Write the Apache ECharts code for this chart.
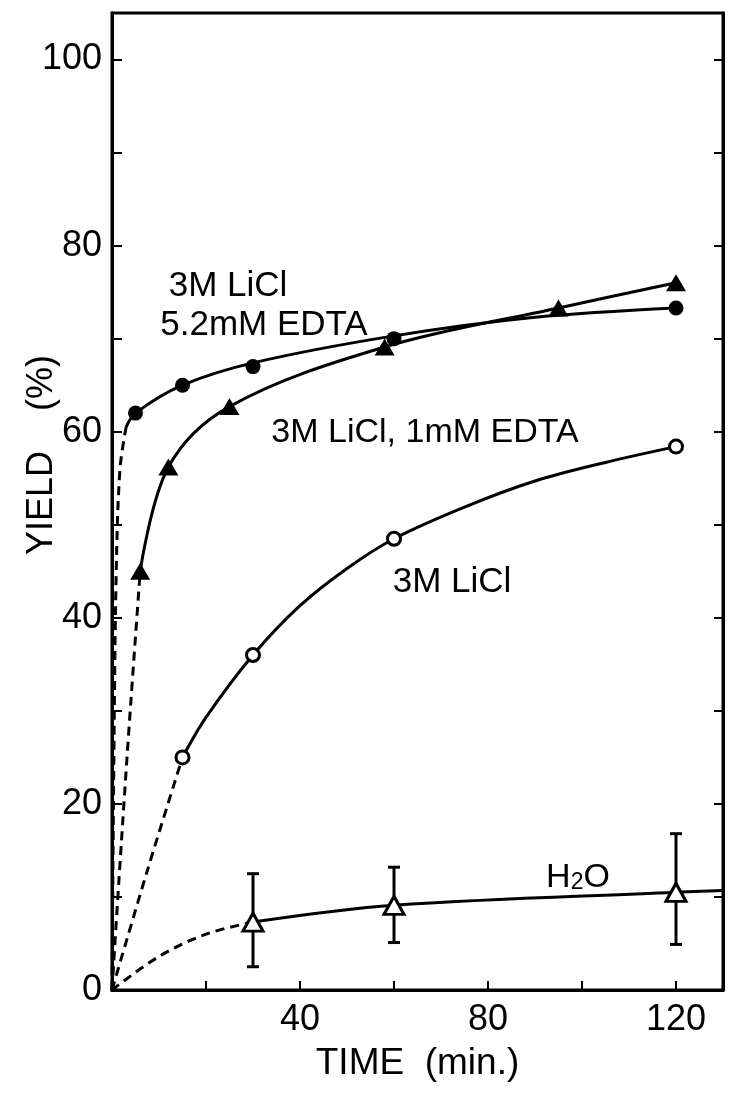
<!DOCTYPE html>
<html>
<head>
<meta charset="utf-8">
<script src="https://cdn.jsdelivr.net/npm/echarts@6/dist/echarts.min.js"></script>
<style>
  html, body { margin: 0; padding: 0; background: #fff; }
  #chart { width: 733px; height: 1102px; }
</style>
</head>
<body>
<div id="chart"></div>
<script>
// measured points (time in min, yield in %)
var timeEdta52 = [5, 15, 30, 60, 120];
var yieldEdta52 = [62, 65, 67, 70, 73.3];
var timeEdta1 = [6, 12, 25, 58, 95, 120];
var yieldEdta1 = [45, 56.2, 62.7, 69.1, 73.3, 76];
var timeLiCl = [15, 30, 60, 120];
var yieldLiCl = [25, 36, 48.5, 58.4];
var timeH2O = [30, 60, 120];
var yieldH2O = [7.3, 9.1, 10.5];
var lowH2O = [2.5, 5.1, 4.9];
var highH2O = [12.5, 13.2, 16.8];

// hand drawn fitting curves (solid) and extrapolations to origin (dashed)
var fitEdta52 = [[3, 60.5], [5, 62], [15, 65], [30, 67.4], [60, 70.3], [90, 72.3], [120, 73.3]];
var dashEdta52 = [[0, 0], [0.4, 25], [0.9, 45], [1.7, 56], [3, 60.5]];
var fitEdta1 = [[6, 45], [12, 56.2], [25, 62.7], [58, 69.1], [95, 73.3], [120, 76]];
var dashEdta1 = [[0, 0], [1.5, 12], [3.6, 28], [6, 45]];
var fitLiCl = [[15, 25], [20, 29.3], [30, 36], [40, 41.3], [50, 45.3], [60, 48.5], [75, 51.9], [90, 54.7], [105, 56.7], [120, 58.4]];
var dashLiCl = [[0, 0], [7.5, 12.8], [15, 25]];
var fitH2O = [[30, 7.3], [60, 9.1], [120, 10.5], [130, 10.7]];
var dashH2O = [[0, 0], [10, 3.6], [20, 6], [30, 7.3]];

var xLabels = [40, 80, 120];
var yLabels = [0, 20, 40, 60, 80, 100];

function zip(xs, ys) {
  return xs.map(function (x, i) { return [x, ys[i]]; });
}

var FONT = '"Liberation Sans", Arial, sans-serif';
var black = '#000';

var myChart = echarts.init(document.getElementById('chart'));

function curve(data, dashed) {
  return {
    type: 'line',
    data: data,
    smooth: 0.35,
    symbol: 'none',
    silent: true,
    z: 2,
    lineStyle: { color: black, width: 3, type: dashed ? [9, 6] : 'solid' },
  };
}

var errData = timeH2O.map(function (t, i) { return [t, lowH2O[i], highH2O[i]]; });

myChart.setOption({
  animation: false,
  backgroundColor: '#fff',
  grid: {
    left: 112, right: 10, top: 13, bottom: 112,
    show: true, borderColor: black, borderWidth: 3,
  },
  xAxis: {
    type: 'value',
    min: 0, max: 130, interval: 20,
    name: 'TIME  (min.)',
    nameLocation: 'middle',
    nameGap: 55,
    nameTextStyle: { fontFamily: FONT, fontSize: 37, color: black },
    axisLine: { onZero: false, lineStyle: { color: black, width: 3 } },
    axisTick: { inside: true, length: 9, lineStyle: { color: black, width: 2 } },
    axisLabel: {
      fontFamily: FONT, fontSize: 36, color: black, margin: 12,
      formatter: function (v) { return xLabels.indexOf(v) >= 0 ? String(v) : ''; },
    },
    splitLine: { show: false },
  },
  yAxis: [
    {
      type: 'value',
      min: 0, max: 105, interval: 10,
      axisLine: { onZero: false, lineStyle: { color: black, width: 3 } },
      axisTick: { inside: true, length: 10, lineStyle: { color: black, width: 2 } },
      axisLabel: {
        fontFamily: FONT, fontSize: 36, color: black, margin: 10,
        formatter: function (v) { return yLabels.indexOf(v) >= 0 ? String(v) : ''; },
      },
      splitLine: { show: false },
    },
    {
      type: 'value',
      position: 'right',
      min: 0, max: 105, interval: 10,
      axisLine: { show: true, onZero: false, lineStyle: { color: black, width: 3 } },
      axisTick: { inside: true, length: 9, lineStyle: { color: black, width: 2 } },
      axisLabel: { show: false },
      splitLine: { show: false },
    },
  ],
  graphic: [
    {
      type: 'text', x: 42, y: 455, rotation: Math.PI / 2,
      style: { text: 'YIELD    (%)', font: '36px ' + FONT, fill: black, align: 'center', verticalAlign: 'middle' },
    },
    {
      type: 'text', x: 228, y: 286,
      style: { text: '3M LiCl', font: '35px ' + FONT, fill: black, align: 'center', verticalAlign: 'middle' },
    },
    {
      type: 'text', x: 264, y: 325,
      style: { text: '5.2mM EDTA', font: '35px ' + FONT, fill: black, align: 'center', verticalAlign: 'middle' },
    },
    {
      type: 'text', x: 425, y: 433,
      style: { text: '3M LiCl, 1mM EDTA', font: '34px ' + FONT, fill: black, align: 'center', verticalAlign: 'middle' },
    },
    {
      type: 'text', x: 452, y: 582,
      style: { text: '3M LiCl', font: '35px ' + FONT, fill: black, align: 'center', verticalAlign: 'middle' },
    },
    {
      type: 'text', x: 578, y: 878,
      style: {
        text: '{a|H}{s|2}{a|O}',
        fill: black, align: 'center', verticalAlign: 'middle',
        rich: {
          a: { fontFamily: FONT, fontSize: 34, fill: black, color: black },
          s: { fontFamily: FONT, fontSize: 23, fill: black, color: black, padding: [10, 0, 0, 0] },
        },
      },
    },
  ],
  series: [
    curve(dashEdta52, true),
    curve(fitEdta52, false),
    curve(dashEdta1, true),
    curve(fitEdta1, false),
    curve(dashLiCl, true),
    curve(fitLiCl, false),
    curve(dashH2O, true),
    curve(fitH2O, false),
    {
      type: 'custom',
      data: errData,
      z: 3,
      silent: true,
      renderItem: function (params, api) {
        var lo = api.coord([api.value(0), api.value(1)]);
        var hi = api.coord([api.value(0), api.value(2)]);
        var cap = 6;
        var st = { stroke: black, lineWidth: 3 };
        return {
          type: 'group',
          children: [
            { type: 'line', shape: { x1: lo[0], y1: lo[1], x2: hi[0], y2: hi[1] }, style: st },
            { type: 'line', shape: { x1: lo[0] - cap, y1: lo[1], x2: lo[0] + cap, y2: lo[1] }, style: st },
            { type: 'line', shape: { x1: hi[0] - cap, y1: hi[1], x2: hi[0] + cap, y2: hi[1] }, style: st },
          ],
        };
      },
    },
    {
      type: 'scatter', data: zip(timeEdta52, yieldEdta52), z: 5,
      symbol: 'circle', symbolSize: 15,
      itemStyle: { color: black, opacity: 1 },
    },
    {
      type: 'scatter', data: zip(timeEdta1, yieldEdta1), z: 5,
      symbol: 'triangle', symbolSize: [20, 17],
      itemStyle: { color: black, opacity: 1 },
    },
    {
      type: 'scatter', data: zip(timeLiCl, yieldLiCl), z: 5,
      symbol: 'circle', symbolSize: 13,
      itemStyle: { color: '#fff', borderColor: black, borderWidth: 3, opacity: 1 },
    },
    {
      type: 'scatter', data: zip(timeH2O, yieldH2O), z: 5,
      symbol: 'triangle', symbolSize: [20, 18],
      itemStyle: { color: '#fff', borderColor: black, borderWidth: 3, opacity: 1 },
    },
  ],
});
</script>
</body>
</html>
